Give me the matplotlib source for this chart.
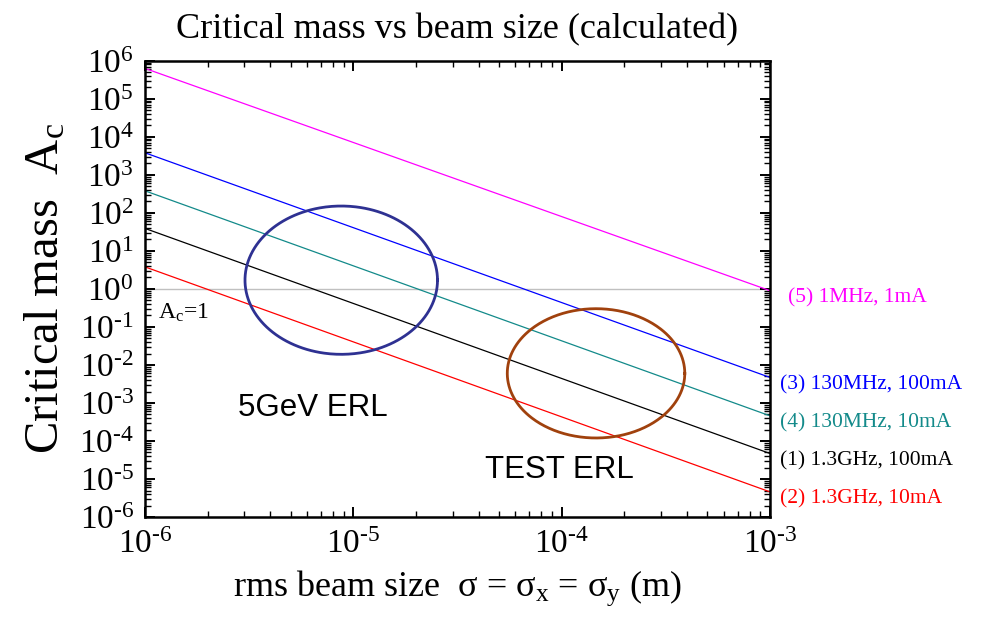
import numpy as np
import matplotlib
matplotlib.use('Agg')
import matplotlib.pyplot as plt
from matplotlib.ticker import FixedLocator, FixedFormatter, LogLocator, NullFormatter

plt.rcParams['font.family'] = ['Liberation Serif', 'DejaVu Serif']
plt.rcParams['mathtext.fontset'] = 'custom'
plt.rcParams['mathtext.rm'] = 'Liberation Serif'
plt.rcParams['mathtext.it'] = 'Liberation Serif'
plt.rcParams['mathtext.bf'] = 'Liberation Serif:bold'

#%% data: critical mass lines (end points at sigma = 1e-6 and 1e-3 m)
sigma_ends = [1e-6, 1e-3]
case_labels = ['(5) 1MHz, 1mA', '(3) 130MHz, 100mA', '(4) 130MHz, 10mA',
               '(1) 1.3GHz, 100mA', '(2) 1.3GHz, 10mA']
case_colors = ['#ff00ff', '#0000ff', '#138a8a', 'black', '#ff0000']
Ac_start = [6.3e5, 3.8e3, 3.8e2, 3.9e1, 3.8]
Ac_end = [0.9, 4.7e-3, 4.6e-4, 4.7e-5, 4.6e-6]

# operating regions (centre and half axes in decades)
region_names = ['5GeV ERL', 'TEST ERL']
region_colors = ['#2e3192', '#a0410d']
region_cx = [-5.058, -3.835]   # log10 sigma
region_cy = [0.23, -2.22]      # log10 Ac
region_rx = [0.462, 0.426]
region_ry = [1.95, 1.70]

xtick_vals = [1e-6, 1e-5, 1e-4, 1e-3]
xtick_labels = [r'$10^{\text{-}6}$', r'$10^{\text{-}5}$', r'$10^{\text{-}4}$', r'$10^{\text{-}3}$']
ytick_vals = [10.0**k for k in range(-6, 7)]
ytick_labels = [r'$10^{%s}$' % (r'\text{-}%d' % -k if k < 0 else '%d' % k) for k in range(-6, 7)]

#%% figure
fig = plt.figure(figsize=(9.83, 6.2), dpi=100, facecolor='w')
ax = fig.add_axes([0.1475, 0.166, 0.6358, 0.736])
ax.set_xscale('log')
ax.set_yscale('log')
ax.set_xlim(1e-6, 1e-3)
ax.set_ylim(1e-6, 1e6)

# A_c = 1 reference line
ax.axhline(1.0, color='#c0c0c0', lw=1.0, zorder=1)

for lab, c, y0, y1 in zip(case_labels, case_colors, Ac_start, Ac_end):
    ax.plot(sigma_ends, [y0, y1], color=c, lw=0.9, zorder=2)
    dx = 13 if lab.startswith('(5)') else 7
    ax.annotate(lab, xy=(sigma_ends[-1], y1), xytext=(dx, -5), textcoords='offset points',
                color=c, fontsize=15.5, ha='left', va='center', annotation_clip=False)

t = np.linspace(0, 2 * np.pi, 400)
for cx, cy, rx, ry, c in zip(region_cx, region_cy, region_rx, region_ry, region_colors):
    ax.plot(10**(cx + rx * np.cos(t)), 10**(cy + ry * np.sin(t)), color=c, lw=2.0, zorder=3)

ax.text(2.8e-6, 10**-3.14, region_names[0], family='Liberation Sans', fontsize=22.5,
        ha='left', va='center')
ax.text(4.3e-5, 10**-4.77, region_names[1], family='Liberation Sans', fontsize=22.5,
        ha='left', va='center')
ax.text(1.15e-6, 10**-0.77, r'A$_\mathrm{c}$=1', fontsize=17, ha='left', va='baseline')

# ticks
ax.xaxis.set_major_locator(FixedLocator(xtick_vals))
ax.xaxis.set_major_formatter(FixedFormatter(xtick_labels))
ax.yaxis.set_major_locator(FixedLocator(ytick_vals))
ax.yaxis.set_major_formatter(FixedFormatter(ytick_labels))
ax.xaxis.set_minor_locator(LogLocator(base=10, subs=np.arange(2, 10), numticks=20))
ax.yaxis.set_minor_locator(LogLocator(base=10, subs=np.arange(2, 10), numticks=40))
ax.xaxis.set_minor_formatter(NullFormatter())
ax.yaxis.set_minor_formatter(NullFormatter())
ax.tick_params(which='both', direction='in', top=True, right=True)
ax.tick_params(which='major', length=7, width=1.4, labelsize=24)
ax.tick_params(which='minor', length=4, width=1.0)
ax.tick_params(axis='x', pad=9)
ax.tick_params(axis='y', pad=8)
for s in ax.spines.values():
    s.set_linewidth(1.8)

ax.set_title('Critical mass vs beam size (calculated)', fontsize=26, pad=16)
ax.set_xlabel(r'rms beam size  $\sigma$ = $\sigma_\mathrm{x}$ = $\sigma_\mathrm{y}$ (m)', fontsize=26, labelpad=6)
ax.set_ylabel(r'Critical mass  A$_\mathrm{c}$', fontsize=35, labelpad=8)

fig.savefig('out.png', dpi=100)
